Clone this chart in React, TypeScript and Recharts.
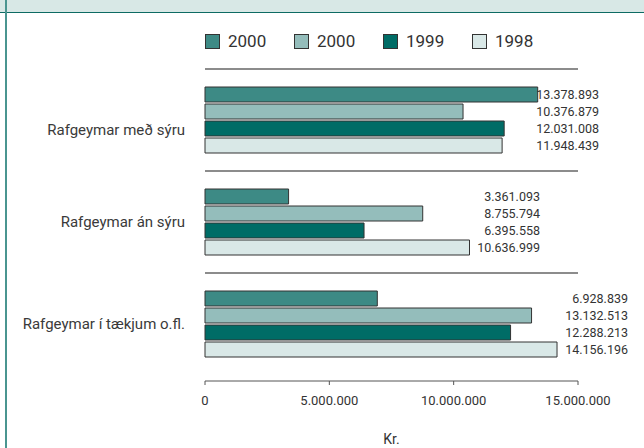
import React from "react";
import {
  BarChart,
  Bar,
  XAxis,
  YAxis,
  ReferenceLine,
  LabelList,
} from "recharts";

const categories = [
  "Rafgeymar með sýru",
  "Rafgeymar án sýru",
  "Rafgeymar í tækjum o.fl.",
];
const values2000a = [13378893, 3361093, 6928839];
const values2000b = [10376879, 8755794, 13132513];
const values1999 = [12031008, 6395558, 12288213];
const values1998 = [11948439, 10636999, 14156196];
const xTicks = [0, 5000000, 10000000, 15000000];

const SERIES = [
  { key: "a2000", name: "2000", color: "#3d8a85", values: values2000a },
  { key: "b2000", name: "2000", color: "#94bdbb", values: values2000b },
  { key: "y1999", name: "1999", color: "#006c66", values: values1999 },
  { key: "y1998", name: "1998", color: "#d9e8e7", values: values1998 },
];

const data = categories.map((cat, i) => {
  const row: Record<string, string | number> = { cat };
  SERIES.forEach((s) => (row[s.key] = s.values[i]));
  return row;
});

const FONT = "Roboto, 'Open Sans', sans-serif";
const TEXT = "#333";
// right edge of the value labels, per group (they are not aligned in the original)
const LABEL_RIGHT = [599, 540, 628];

const fmt = (v: number) => String(v).replace(/\B(?=(\d{3})+(?!\d))/g, ".");

function CategoryTick({ x, y, payload, index }: any) {
  return (
    <text
      x={x}
      y={y}
      dy={index === 0 ? 15 : 5}
      textAnchor="end"
      fontFamily={FONT}
      fontSize={15}
      fill="#3a3a3a"
    >
      {payload.value}
    </text>
  );
}

function ValueLabel({ y, height, value, index }: any) {
  return (
    <text
      x={LABEL_RIGHT[index]}
      y={y + height / 2}
      textAnchor="end"
      dominantBaseline="central"
      fontFamily={FONT}
      fontSize={12.5}
      fill={TEXT}
    >
      {fmt(value)}
    </text>
  );
}

function LegendBox() {
  return (
    <div
      style={{
        position: "absolute",
        left: 205,
        top: 31,
        display: "flex",
        fontFamily: FONT,
        fontSize: 17,
        color: TEXT,
      }}
    >
      {SERIES.map((s) => (
        <div key={s.key} style={{ display: "flex", alignItems: "center", width: 89 }}>
          <span
            style={{
              display: "inline-block",
              width: 13,
              height: 13,
              background: s.color,
              border: "1px solid #333",
              marginRight: 8,
            }}
          />
          <span>{s.name}</span>
        </div>
      ))}
    </div>
  );
}

export default function App() {
  return (
    <div style={{ position: "absolute", left: 0, top: 0, width: 644, height: 448, background: "#fff" }}>
      {/* header band and left frame */}
      <div style={{ position: "absolute", left: 0, top: 0, width: 644, height: 12, background: "#d8e8e6", borderBottom: "1.5px solid #0d6b63" }} />
      <div style={{ position: "absolute", left: 5, top: 0, width: 2, height: 448, background: "#4a9590" }} />
      <BarChart
        width={644}
        height={448}
        data={data}
        layout="vertical"
        margin={{ top: 69, right: 66, bottom: 0, left: 0 }}
        barGap={2}
        style={{ position: "absolute", left: 0, top: 0 }}
      >
        <XAxis
          type="number"
          domain={[0, 15000000]}
          ticks={xTicks}
          tickFormatter={fmt}
          height={67}
          stroke="#555"
          tickSize={4}
          tickMargin={11}
          tick={{ fontFamily: FONT, fontSize: 13, fill: TEXT }}
          label={{ value: "Kr.", position: "insideBottom", offset: 4, fontFamily: FONT, fontSize: 14, fill: TEXT }}
        />
        <YAxis
          type="category"
          dataKey="cat"
          width={205}
          axisLine={false}
          tickLine={false}
          tickSize={0}
          tickMargin={20}
          padding={{ top: 0, bottom: 6 }}
          tick={<CategoryTick />}
        />
        {categories.map((c) => (
          <ReferenceLine key={c} y={c} position="start" stroke="#666" strokeWidth={1.5} />
        ))}
        {SERIES.map((s) => (
          <Bar
            key={s.key}
            dataKey={s.key}
            name={s.name}
            fill={s.color}
            stroke="#333"
            strokeWidth={1}
            barSize={15}
            isAnimationActive={false}
          >
            <LabelList dataKey={s.key} content={<ValueLabel />} />
          </Bar>
        ))}
      </BarChart>
      <LegendBox />
    </div>
  );
}
